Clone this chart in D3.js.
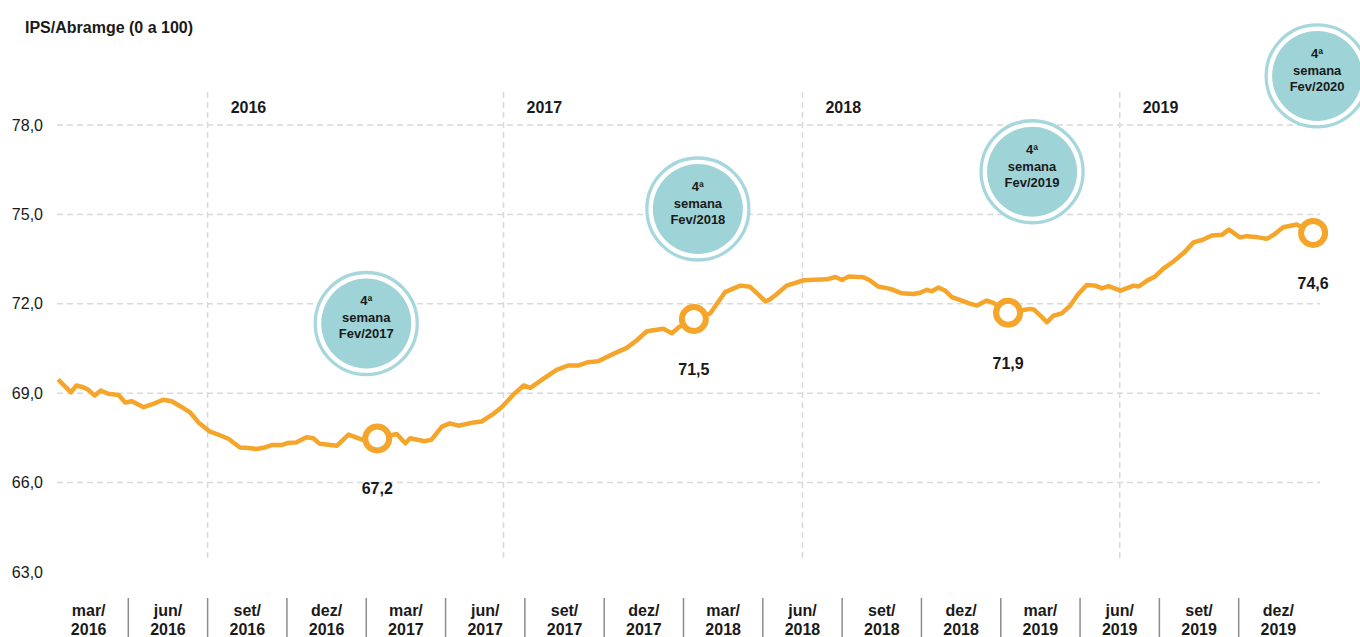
<!DOCTYPE html>
<html>
<head>
<meta charset="utf-8">
<script src="https://cdn.jsdelivr.net/npm/d3@7"></script>
<style>
  body { margin: 0; background: #fff; }
  svg { display: block; font-family: "Liberation Sans", Arial, sans-serif; }
</style>
</head>
<body>
<svg></svg>
<script>
const width = 1360, height = 637;

// Data: weekly IPS index, [week since start of mar/2016 quarter, value]
const ipsSeries = [
  [1.5, 69.46], [3.6, 69.03], [4.5, 69.26], [5.6, 69.20], [6.4, 69.12], [7.5, 68.92],
  [8.5, 69.09], [9.7, 68.98], [11.4, 68.94], [12.5, 68.69], [13.6, 68.73], [15.5, 68.53],
  [17.1, 68.64], [18.7, 68.78], [20.1, 68.73], [21.8, 68.53], [23.1, 68.36], [24.5, 68.02],
  [26.4, 67.71], [27.5, 67.63], [29.4, 67.47], [31.3, 67.18], [32.7, 67.16], [34.0, 67.13],
  [35.4, 67.18], [36.5, 67.26], [38.1, 67.26], [39.2, 67.33], [40.6, 67.35], [42.2, 67.52],
  [43.3, 67.49], [44.4, 67.30], [47.2, 67.24], [49.1, 67.61], [51.3, 67.44], [53.8, 67.48],
  [57.0, 67.63], [58.4, 67.32], [59.2, 67.49], [61.6, 67.39], [62.7, 67.44], [64.4, 67.88],
  [65.7, 67.99], [67.1, 67.91], [69.6, 68.02], [70.9, 68.05], [72.6, 68.27], [74.2, 68.53],
  [76.1, 68.95], [77.8, 69.26], [78.9, 69.18], [81.0, 69.48], [83.2, 69.78], [85.1, 69.93],
  [86.8, 69.93], [88.4, 70.04], [90.0, 70.07], [92.5, 70.32], [94.7, 70.52], [96.3, 70.77],
  [98.0, 71.08], [100.7, 71.16], [102.1, 71.01], [103.2, 71.21], [105.7, 71.49], [108.4, 71.68],
  [110.8, 72.39], [113.3, 72.61], [114.9, 72.57], [116.3, 72.31], [117.4, 72.08], [118.2, 72.15],
  [119.3, 72.33], [120.9, 72.61], [123.7, 72.79], [127.5, 72.82], [128.9, 72.90], [130.0, 72.80],
  [131.1, 72.92], [133.5, 72.89], [134.6, 72.78], [135.9, 72.58], [137.9, 72.50], [139.8, 72.35],
  [141.7, 72.33], [142.8, 72.37], [143.9, 72.47], [144.7, 72.42], [145.8, 72.55], [146.9, 72.44],
  [148.0, 72.22], [149.3, 72.13], [150.7, 72.02], [152.1, 71.94], [153.7, 72.11], [154.8, 72.03],
  [157.2, 71.70], [160.8, 71.83], [161.4, 71.81], [162.5, 71.60], [163.6, 71.38], [164.6, 71.60],
  [166.0, 71.68], [167.4, 71.94], [168.7, 72.33], [170.1, 72.63], [171.5, 72.61], [172.6, 72.52],
  [173.7, 72.59], [175.6, 72.44], [177.8, 72.61], [178.6, 72.58], [180.0, 72.78], [181.3, 72.92],
  [182.7, 73.19], [184.3, 73.42], [186.0, 73.71], [187.6, 74.06], [189.0, 74.14], [190.6, 74.29],
  [192.3, 74.32], [193.4, 74.49], [195.2, 74.23], [196.3, 74.27], [198.2, 74.23], [199.6, 74.18],
  [200.7, 74.31], [202.3, 74.57], [204.5, 74.66], [207.2, 74.38]
];

// Quarter categories on the x axis
const quarters = ["mar/2016", "jun/2016", "set/2016", "dez/2016", "mar/2017", "jun/2017", "set/2017", "dez/2017",
  "mar/2018", "jun/2018", "set/2018", "dez/2018", "mar/2019", "jun/2019", "set/2019", "dez/2019"];

// Year separators (week) and labels
const yearWeeks = [26, 74.5, 123.5, 175.5];
const yearLabels = ["2016", "2017", "2018", "2019"];

// Highlighted weeks (4th week of February) with reported values
const highlightWeeks = [53.8, 105.7, 157.2, 207.2];
const highlightValues = [67.2, 71.5, 71.9, 74.6];
const highlightNames = ["Fev/2017", "Fev/2018", "Fev/2019", "Fev/2020"];

const yTicks = [63, 66, 69, 72, 75, 78];

// bubble placement relative to its marker (layout only)
const bubbleOffsets = [[-11, -115], [4, -110], [24, -141], [4, -157]];

const ptBR = d3.formatLocale({ decimal: ",", thousands: ".", grouping: [3], currency: ["R$", ""] });
const fmt = ptBR.format(".1f");

const svg = d3.select("svg").attr("width", width).attr("height", height);

const x = d3.scaleLinear().domain([0, 208]).range([49, 1318]);
const xBand = d3.scaleBand().domain(quarters).range([49, 1318]);
const y = d3.scaleLinear().domain([63, 78]).range([572, 125]);

const textColor = "#1a1a1a";
const orange = "#F5A52A";

// Title
svg.append("text")
  .attr("x", 25).attr("y", 33)
  .attr("font-size", 16).attr("font-weight", "bold")
  .attr("fill", textColor)
  .text("IPS/Abramge (0 a 100)");

// Horizontal gridlines (no line at the bottom tick)
svg.selectAll(".grid")
  .data(yTicks.filter(d => d > 63))
  .enter().append("line")
  .attr("x1", 57).attr("x2", 1320)
  .attr("y1", d => y(d)).attr("y2", d => y(d))
  .attr("stroke", "#d9d9d9").attr("stroke-width", 1.5)
  .attr("stroke-dasharray", "6,4");

// Y tick labels
svg.selectAll(".ytick")
  .data(yTicks)
  .enter().append("text")
  .attr("x", 43).attr("y", d => y(d))
  .attr("dy", "0.35em")
  .attr("text-anchor", "end")
  .attr("font-size", 16).attr("fill", textColor)
  .text(d => fmt(d));

// Year separators
svg.selectAll(".yearline")
  .data(yearWeeks)
  .enter().append("line")
  .attr("x1", d => x(d)).attr("x2", d => x(d))
  .attr("y1", 92).attr("y2", 562)
  .attr("stroke", "#d9d9d9").attr("stroke-width", 1.5)
  .attr("stroke-dasharray", "6,4");

svg.selectAll(".yearlabel")
  .data(yearWeeks)
  .enter().append("text")
  .attr("x", d => x(d) + 23).attr("y", 113)
  .attr("font-size", 16).attr("font-weight", "bold")
  .attr("fill", textColor)
  .text((d, i) => yearLabels[i]);

// X axis category labels and separators
const xl = svg.selectAll(".xlabel")
  .data(quarters)
  .enter().append("text")
  .attr("text-anchor", "middle")
  .attr("font-size", 16).attr("font-weight", "bold")
  .attr("fill", textColor);
xl.append("tspan")
  .attr("x", d => xBand(d) + xBand.bandwidth() / 2).attr("y", 616)
  .text(d => d.split("/")[0] + "/");
xl.append("tspan")
  .attr("x", d => xBand(d) + xBand.bandwidth() / 2).attr("y", 635)
  .text(d => d.split("/")[1]);

svg.selectAll(".xsep")
  .data(quarters.slice(1))
  .enter().append("line")
  .attr("x1", d => xBand(d)).attr("x2", d => xBand(d))
  .attr("y1", 598).attr("y2", 637)
  .attr("stroke", "#8c8c8c").attr("stroke-width", 1.5);

// The series line
const line = d3.line()
  .x(d => x(d[0]))
  .y(d => y(d[1]));

svg.append("path")
  .datum(ipsSeries)
  .attr("d", line)
  .attr("fill", "none")
  .attr("stroke", orange)
  .attr("stroke-width", 4.5)
  .attr("stroke-linejoin", "round");

// Highlight markers
const highlights = highlightWeeks.map((w, i) => {
  const pt = ipsSeries.find(p => p[0] === w);
  return { cx: x(pt[0]), cy: y(pt[1]), value: highlightValues[i], name: highlightNames[i], off: bubbleOffsets[i] };
});

svg.selectAll(".marker")
  .data(highlights)
  .enter().append("circle")
  .attr("cx", d => d.cx).attr("cy", d => d.cy)
  .attr("r", 12)
  .attr("fill", "#fff")
  .attr("stroke", orange).attr("stroke-width", 6);

svg.selectAll(".vlabel")
  .data(highlights)
  .enter().append("text")
  .attr("x", d => d.cx).attr("y", d => d.cy + 56)
  .attr("text-anchor", "middle")
  .attr("font-size", 16).attr("font-weight", "bold")
  .attr("fill", textColor)
  .text(d => fmt(d.value));

// Bubbles "4ª semana Fev/yyyy"
const bubble = svg.selectAll(".bubble")
  .data(highlights)
  .enter().append("g")
  .attr("transform", d => `translate(${d.cx + d.off[0]},${d.cy + d.off[1]})`);

bubble.append("circle")
  .attr("r", 51)
  .attr("fill", "#fff")
  .attr("stroke", "#a6d7dc").attr("stroke-width", 3.3);

bubble.append("circle")
  .attr("r", 45)
  .attr("fill", "#9ed3d8");

const bt = bubble.append("text")
  .attr("text-anchor", "middle")
  .attr("font-size", 13).attr("font-weight", "bold")
  .attr("fill", textColor);
bt.append("tspan").attr("x", 0).attr("y", -18).text("4ª");
bt.append("tspan").attr("x", 0).attr("y", -1).text("semana");
bt.append("tspan").attr("x", 0).attr("y", 15).text(d => d.name);
</script>
</body>
</html>
